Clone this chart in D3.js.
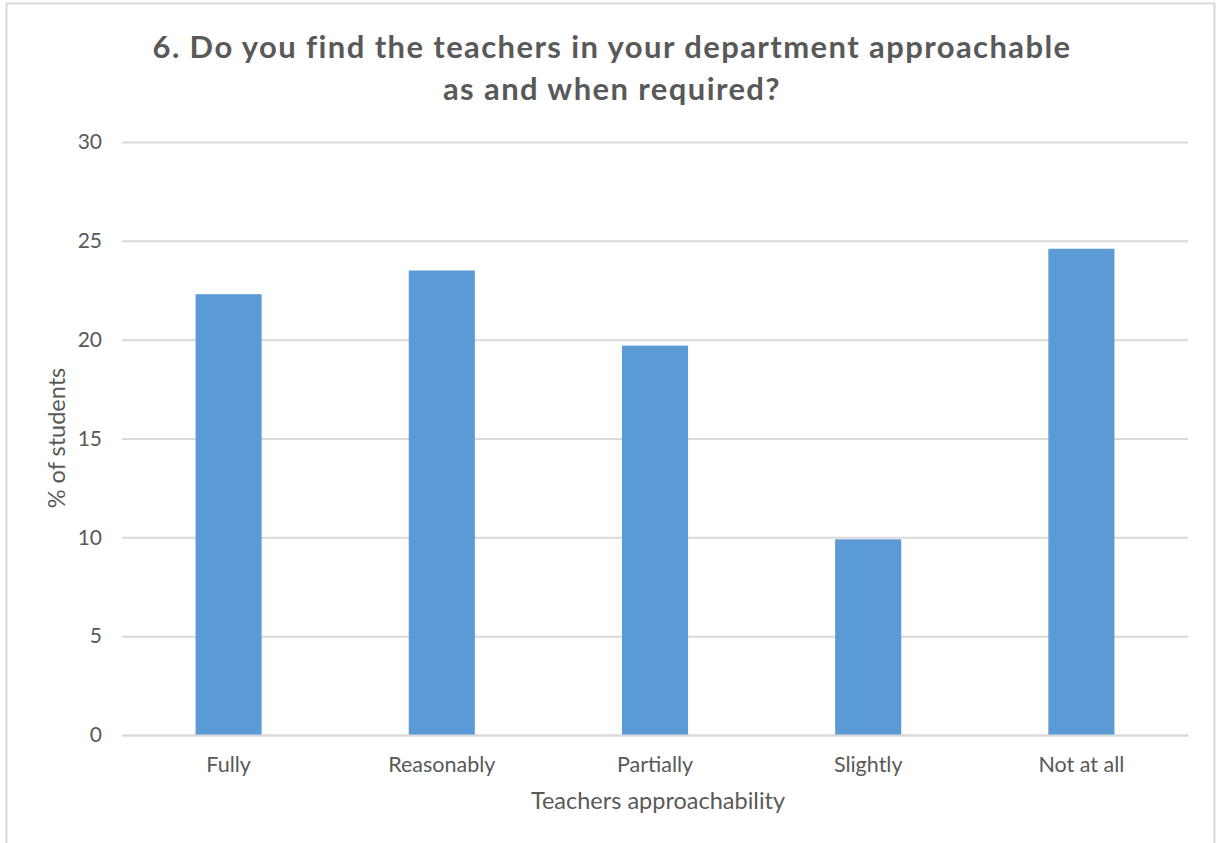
<!DOCTYPE html>
<html>
<head>
<meta charset="utf-8">
<script src="https://cdn.jsdelivr.net/npm/d3@7"></script>
<style>
  body { margin: 0; background: #fff; }
  svg { display: block; }
</style>
</head>
<body>
<script>
// chart data
var categories = ["Fully", "Reasonably", "Partially", "Slightly", "Not at all"];
var percentStudents = [22.3, 23.5, 19.7, 9.9, 24.6];
var yTicks = [0, 5, 10, 15, 20, 25, 30];

var titleLines = ["6. Do you find the teachers in your department approachable", "as and when required?"];
var xTitle = "Teachers approachability";
var yTitle = "% of students";

var width = 1216;
var height = 843;
var margin = {top: 142, right: 28, bottom: 108, left: 122};
var font = "Lato, Calibri, 'Open Sans', sans-serif";
var textColor = "#595959";

var svg = d3.select("body")
  .append("svg")
  .attr("width", width)
  .attr("height", height);

// chart frame
svg.append("rect")
  .attr("x", 6.5)
  .attr("y", 3.5)
  .attr("width", 1208)
  .attr("height", 850)
  .attr("fill", "#fff")
  .attr("stroke", "#d9d9d9")
  .attr("stroke-width", 2);

var x = d3.scaleBand()
  .domain(categories)
  .range([margin.left, width - margin.right])
  .paddingInner(0.69)
  .paddingOuter(0.345);

var y = d3.scaleLinear()
  .domain([0, 30])
  .range([height - margin.bottom, margin.top]);

// gridlines
var yAxis = d3.axisLeft(y)
  .tickValues(yTicks)
  .tickSize(-(width - margin.right - margin.left))
  .tickPadding(20);

var gy = svg.append("g")
  .attr("transform", "translate(" + margin.left + ",0)")
  .call(yAxis);
gy.select(".domain").remove();
gy.selectAll(".tick line")
  .attr("stroke", "#d9d9d9")
  .attr("stroke-width", 2);
gy.selectAll(".tick text")
  .attr("fill", textColor)
  .style("font-family", font)
  .style("font-size", "21px");

// bars
svg.selectAll("rect.bar")
  .data(percentStudents)
  .enter()
    .append("rect")
    .attr("class", "bar")
    .attr("x", function(d, i){return x(categories[i])})
    .attr("y", function(d){return y(d)})
    .attr("width", x.bandwidth())
    .attr("height", function(d){return y(0) - y(d)})
    .attr("fill", "#5b9bd5");

// x axis
var xAxis = d3.axisBottom(x)
  .tickSize(0)
  .tickPadding(22);

var gx = svg.append("g")
  .attr("transform", "translate(0," + y(0) + ")")
  .call(xAxis);
gx.select(".domain")
  .attr("stroke", "#d9d9d9")
  .attr("stroke-width", 2);
gx.selectAll(".tick text")
  .attr("fill", textColor)
  .style("font-family", font)
  .style("font-size", "21.5px");

// title
svg.append("text")
  .attr("x", 612)
  .attr("y", 58)
  .attr("text-anchor", "middle")
  .attr("fill", textColor)
  .style("font-family", font)
  .style("font-size", "31px")
  .style("font-weight", "bold")
  .style("letter-spacing", "1.4px")
  .selectAll("tspan")
  .data(titleLines)
  .enter()
    .append("tspan")
    .attr("x", 612)
    .attr("dy", function(d, i){return i == 0 ? 0 : 42})
    .text(function(d){return d});

// axis titles
svg.append("text")
  .attr("x", 658)
  .attr("y", 809)
  .attr("text-anchor", "middle")
  .attr("fill", textColor)
  .style("font-family", font)
  .style("font-size", "23.5px")
  .text(xTitle);

svg.append("text")
  .attr("transform", "translate(65,438) rotate(-90)")
  .attr("text-anchor", "middle")
  .attr("fill", textColor)
  .style("font-family", font)
  .style("font-size", "23.5px")
  .text(yTitle);
</script>
</body>
</html>
